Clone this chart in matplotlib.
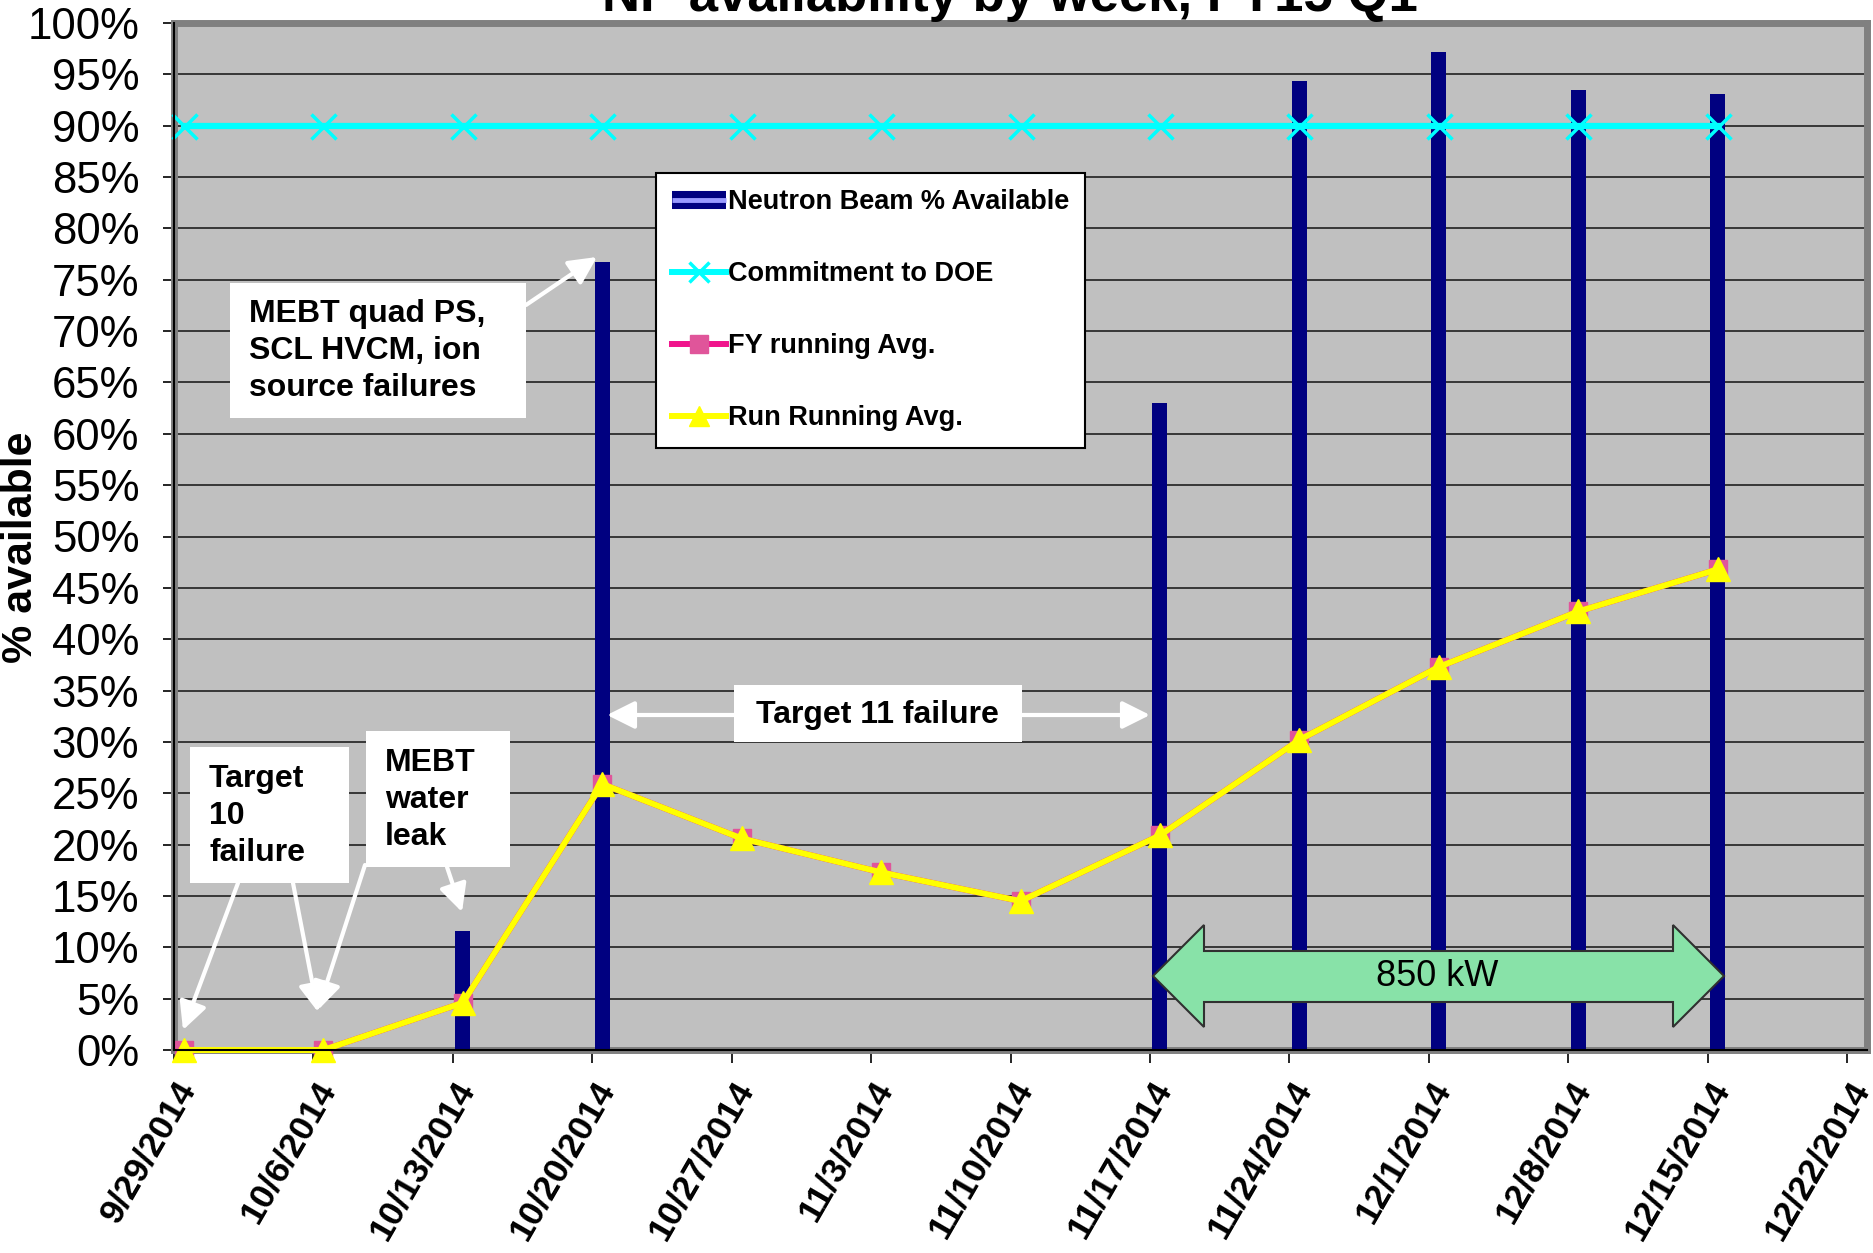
import matplotlib
matplotlib.use("Agg")
import matplotlib.pyplot as plt
from matplotlib.lines import Line2D
from matplotlib.legend_handler import HandlerTuple
from matplotlib.patches import Rectangle, Polygon, FancyArrowPatch
from matplotlib.ticker import MultipleLocator, FuncFormatter
import pandas as pd

# dados
weeks = ["9/29/2014", "10/6/2014", "10/13/2014", "10/20/2014", "10/27/2014", "11/3/2014",
         "11/10/2014", "11/17/2014", "11/24/2014", "12/1/2014", "12/8/2014", "12/15/2014"]
tick_labels = weeks + ["12/22/2014"]
beam_avail = [0, 0, 11.6, 76.7, 0, 0, 0, 63.0, 94.4, 97.2, 93.5, 93.1]
commitment = [90, 90, 90, 90, 90, 90, 90, 90, 90, 90, 90, 90]
fy_avg = [0, 0, 4.6, 25.9, 20.6, 17.3, 14.5, 20.9, 30.2, 37.3, 42.7, 46.8]
run_avg = [0, 0, 4.6, 25.9, 20.6, 17.3, 14.5, 20.9, 30.2, 37.3, 42.7, 46.8]

W, H = 1874, 1253
FONT = "Liberation Sans"
plt.rcParams["font.family"] = [FONT, "DejaVu Sans"]


def px(x, y):
    # pixel da figura -> fracao da figura
    return (x / W, 1 - y / H)


fig = plt.figure(figsize=(W / 100, H / 100), dpi=100)
fig.subplots_adjust(left=174 / W, right=1867 / W, top=1 - 23 / H, bottom=1 - 1050 / H)
ax = fig.add_subplot(111)
ax.set_facecolor("#C0C0C0")

dates = pd.to_datetime(weeks, format="%m/%d/%Y")
xpos = dates + pd.Timedelta(hours=12)  # Excel centra o ponto no dia
tick_dates = pd.to_datetime(tick_labels, format="%m/%d/%Y")

# barras
ax.bar(xpos, beam_avail, width=0.75, color="#000080", zorder=3)

# linhas
ax.plot(xpos, commitment, color="#00FFFF", lw=4.5, marker="x", markersize=18,
        mew=2.5, zorder=4, clip_on=False)
ax.plot(xpos, fy_avg, color="#F0148C", lw=4.3, marker="s", markersize=13,
        mfc="#E0559A", mec="#E0559A", zorder=5, clip_on=False)
ax.plot(xpos, run_avg, color="#FFFF00", lw=4.3, marker="^", markersize=17,
        mfc="#FFFF00", mec="#FFFF00", zorder=6, clip_on=False)

# eixos
ax.set_ylim(0, 100)
ax.yaxis.set_major_locator(MultipleLocator(5))
ax.yaxis.set_major_formatter(FuncFormatter(lambda v, p: f"{v:.0f}%"))
ax.set_xlim(tick_dates[0], tick_dates[-1] + pd.Timedelta(days=1))
ax.set_xticks(tick_dates)
ax.set_xticklabels(tick_labels, rotation=60, ha="right", va="top",
                   rotation_mode="anchor", fontsize=25.5, fontweight="bold")
ax.tick_params(axis="y", labelsize=31.5, length=8, width=1.2, pad=17)
ax.tick_params(axis="x", length=9, width=1.2, pad=9)
ax.grid(axis="y", color="#202020", lw=1.2, zorder=1)
ax.set_axisbelow(True)
for s in ax.spines.values():
    s.set_color("#808080")
    s.set_linewidth(5)
ax.plot([0, 0], [0, 1], color="black", lw=1.5, transform=ax.transAxes, clip_on=False, zorder=7)
ax.plot([0, 1], [0, 0], color="black", lw=1.5, transform=ax.transAxes, clip_on=False, zorder=7)

# titulo (cortado no topo como no original) e rotulo do eixo y
fig.text(1010 / W, 1 - 11 / H, "NP availability by week, FY15 Q1", ha="center",
         va="baseline", fontsize=38, fontweight="bold")
fig.text(21 / W, 1 - 547 / H, "% available", rotation=90, ha="center", va="center",
         fontsize=31, fontweight="bold")

# legenda
h_beam = (Line2D([], [], color="#000080", lw=13, solid_capstyle="butt"),
          Line2D([], [], color="#9999FF", lw=3.5, solid_capstyle="butt"))
h_doe = Line2D([], [], color="#00FFFF", lw=4.3, marker="x", markersize=14, mew=2.5)
h_fy = Line2D([], [], color="#F0148C", lw=4.3, marker="s", markersize=13,
              mfc="#E0559A", mec="#E0559A")
h_run = Line2D([], [], color="#FFFF00", lw=4.3, marker="^", markersize=15)
leg = ax.legend([h_beam, h_doe, h_fy, h_run],
                ["Neutron Beam % Available", "Commitment to DOE", "FY running Avg.",
                 "Run Running Avg."],
                handler_map={tuple: HandlerTuple(ndivide=1, pad=0)},
                loc="upper left", bbox_to_anchor=px(656, 173), bbox_transform=fig.transFigure,
                borderaxespad=0, prop={"family": FONT, "weight": "bold", "size": 19.5},
                handlelength=2.0, handletextpad=0.05, labelspacing=1.7, borderpad=0.6,
                fancybox=False, framealpha=1, edgecolor="black")
leg.get_frame().set_linewidth(1.5)
leg.set_zorder(10)


def box(x0, y0, x1, y1):
    fig.add_artist(Rectangle(px(x0, y1), (x1 - x0) / W, (y1 - y0) / H,
                             transform=fig.transFigure, facecolor="white",
                             edgecolor="none", zorder=5))


def arrow(x0, y0, x1, y1, style="-|>"):
    fig.add_artist(FancyArrowPatch(px(x0, y0), px(x1, y1), transform=fig.transFigure,
                                   arrowstyle=style, mutation_scale=42, color="white",
                                   lw=3, shrinkA=0, shrinkB=0, zorder=6))


txt = dict(fontsize=23, fontweight="bold", zorder=7, linespacing=1.3)

# MEBT quad PS
box(230, 283, 526, 418)
fig.text(*px(249, 351), "MEBT quad PS,\nSCL HVCM, ion\nsource failures",
         ha="left", va="center", **txt)
arrow(526, 305, 597, 257)

# Target 11
box(734, 685, 1022, 742)
fig.text(*px(877, 715), "Target 11 failure", ha="center", va="center", **txt)
arrow(734, 715, 607, 715)
arrow(1022, 715, 1150, 715)

# Target 10
box(190, 747, 349, 883)
fig.text(*px(209, 816), "Target\n10\nfailure", ha="left", va="center", **txt)
arrow(238, 883, 183, 1030)
arrow(293, 883, 318, 1012)

# MEBT water leak
box(366, 731, 510, 867)
fig.text(*px(385, 800), "MEBT\nwater\nleak", ha="left", va="center", **txt)
arrow(365, 865, 318, 1010)
arrow(447, 867, 462, 912)

# seta dupla 850 kW
pts = [(1153, 976), (1204, 925), (1204, 951), (1673, 951), (1673, 925), (1724, 976),
       (1673, 1027), (1673, 1002), (1204, 1002), (1204, 1027)]
fig.add_artist(Polygon([px(x, y) for x, y in pts], closed=True, transform=fig.transFigure,
                       facecolor="#88E2A8", edgecolor="#303030", lw=1.5, zorder=5))
fig.text(*px(1437, 976), "850 kW", ha="center", va="center", fontsize=26, zorder=7)

fig.savefig("out.png", dpi=100)
